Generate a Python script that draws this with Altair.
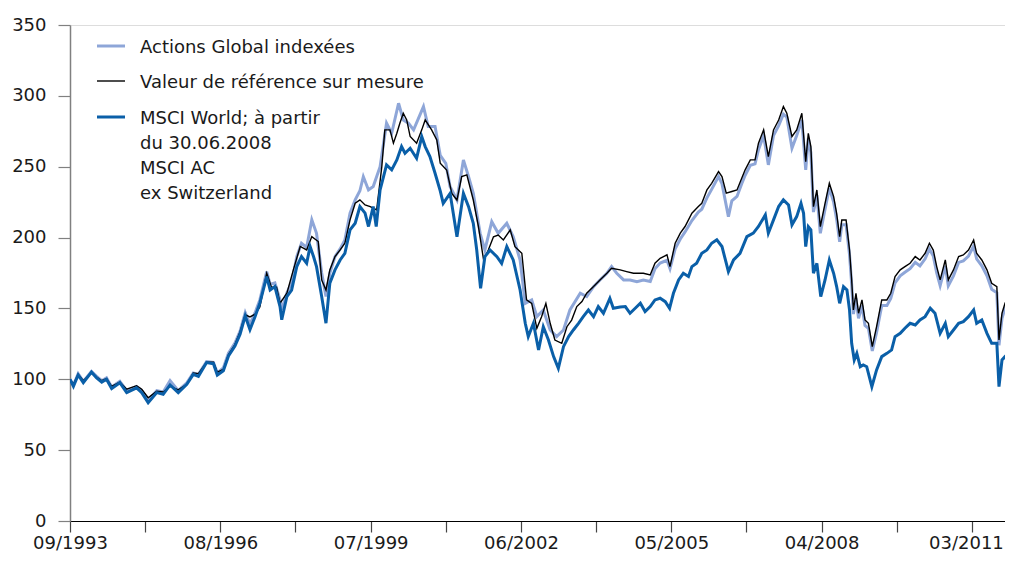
import altair as alt
import pandas as pd

# x positions are months since 09/1993
tick_months = [0, 17.5, 35, 52.5, 70, 87.5, 105, 122.5, 140, 157.5, 175, 192.5, 210]
label_months = [0, 35, 70, 105, 140, 175, 210]
tick_labels = ["09/1993", "08/1996", "07/1999", "06/2002", "05/2005", "04/2008", "03/2011"]

msci_m = [0, 0.8, 1.9, 3.1, 5.0, 6.2, 7.4, 8.5, 9.7, 11.6, 13.2, 15.5, 16.7, 18.2, 20.2, 21.7, 23.3, 25.2,
          27.2, 28.7, 29.9, 31.8, 33.4, 34.3, 35.7, 36.9, 38.4, 39.6, 40.8, 41.9, 43.1, 44.2, 45.8, 46.6,
          47.7, 48.9, 49.3, 50.5, 51.6, 52.8, 53.9, 55.1, 55.9, 56.7, 57.4, 58.6, 59.6, 60.5, 61.7, 62.9,
          64.0, 65.2, 66.4, 67.5, 68.7, 69.5, 70.6, 71.3, 72.2, 73.0, 73.7, 74.9, 76.1, 77.2, 78.0, 79.2,
          80.7, 81.9, 82.7, 83.8, 85.0, 86.2, 86.9, 88.5, 90.1, 91.6, 92.8, 93.9, 94.7, 95.6, 96.6, 97.8,
          99.4, 100.5, 101.7, 103.2, 104.8, 106.0, 106.7, 107.9, 109.1, 110.2, 111.4, 112.6, 113.7, 114.9,
          116.1, 117.2, 118.4, 119.5, 120.7, 121.9, 123.0, 124.2, 125.7, 126.5, 128.1, 129.3, 130.4, 131.6,
          132.8, 133.9, 135.1, 136.2, 137.4, 138.6, 139.6, 140.5, 141.7, 142.8, 144.0, 144.8, 145.9, 147.1,
          148.3, 149.4, 150.6, 151.8, 152.8, 153.3, 154.5, 156.0, 157.6, 159.1, 160.3, 161.9, 162.6, 163.8,
          165.0, 166.1, 167.3, 168.1, 169.2, 170.2, 170.8, 171.3, 171.9, 172.5, 173.1, 173.9, 174.8, 175.8,
          176.8, 177.8, 178.5, 179.2, 180.1, 180.9, 181.5, 182.0, 182.6, 183.2, 184.0, 184.7, 185.5, 186.7,
          187.8, 189.0, 190.2, 191.3, 192.1, 193.3, 194.4, 195.6, 196.8, 197.9, 199.1, 200.3, 201.4, 202.6,
          203.8, 204.5, 205.7, 206.9, 208.0, 209.2, 210.4, 211.1, 212.3, 213.5, 214.6, 215.8, 216.3, 217.0,
          217.7, 218.5, 219.6]
msci_v = [100, 95, 103, 97.6, 105, 101, 98, 100, 93.4, 97.6, 90.6, 94, 90.6, 83.5, 90.6, 89.4, 96, 90.6,
          96.5, 103.5, 102, 111.8, 111, 103, 106, 116.5, 123.5, 131.8, 144.7, 135, 144.3, 153.7, 172.5, 163,
          165.4, 151.3, 142, 158.4, 163, 179.5, 186.6, 181.9, 193.7, 186.6, 179.5, 158.4, 139.6, 167.8, 177.2, 184.2,
          188.9, 205.4, 210.1, 221.9, 217.2, 207.8, 221.9, 207.8, 233.6, 243, 251.3, 247.8, 254.8, 264.2, 259.5, 263,
          256, 271.3, 264.2, 257.2, 245.4, 233, 224.2, 231.2, 200.6, 231.2, 221.8, 210.1, 191.2, 164.2, 186.5, 191.2,
          186.5, 181.8, 193.6, 184.2, 163, 139.5, 130.1, 139.5, 120.7, 137.1, 127.7, 116, 107.7, 123,
          130.1, 134.8, 139.5, 144.2, 148.9, 144.2, 151.3, 146.6, 157.1, 150.1, 151, 151.3, 146.6, 150.1,
          153.7, 147.8, 151.3, 156, 157.2, 154.8, 150.1, 160.7, 170.1, 174.8, 172.5, 179.5, 181.9, 188.9,
          191.3, 196, 198.4, 193.7, 181.9, 176, 184.2, 188.9, 200.7, 203.1, 207.8, 216, 203.1, 212.5,
          221.9, 226.6, 223, 209, 214.8, 224.2, 217.1, 193.6, 207.7, 205.4, 174.8, 181.8, 158.3, 170.1,
          184.2, 174.8, 165.4, 153.6, 165.4, 163, 148.9, 125.4, 113.6, 118.3, 108.9, 110.1, 108.9, 94.8,
          106.6, 116, 118.3, 120.7, 130.1, 132.4, 136, 139.5, 138.3, 141.9, 144.2, 150.1, 146.6, 132.4,
          139.5, 130.1, 134.8, 139.5, 140.7, 144.2, 148.9, 139.5, 141.9, 132.4, 125.4, 125.4, 94.8, 113.6,
          116, 118.3, 123]

bench_m = [0, 0.8, 1.9, 3.1, 5.0, 6.2, 7.4, 8.5, 9.7, 11.6, 13.2, 15.5, 16.7, 18.2, 20.2, 21.7, 23.3, 25.2,
           27.2, 28.7, 29.9, 31.8, 33.4, 34.3, 35.7, 36.9, 38.4, 39.6, 40.8, 41.9, 43.1, 44.2, 45.8, 46.9,
           48.1, 48.9, 50.5, 52.0, 53.6, 55.1, 56.3, 57.8, 58.6, 59.6, 60.5, 61.7, 62.9, 64.0, 65.2, 66.4,
           67.5, 68.7, 69.9, 71.4, 72.6, 73.3, 74.5, 75.3, 76.1, 76.8, 77.6, 78.4, 79.2, 80.7, 81.9, 82.7,
           84.2, 85.4, 86.2, 87.7, 88.9, 90.1, 91.2, 92.4, 93.9, 95.1, 96.3, 97.4, 98.6, 99.7, 100.9, 102.5,
           103.6, 105.2, 106.3, 107.5, 108.7, 109.8, 110.8, 111.8, 112.9, 114.5, 115.7, 116.8, 118.0, 119.2,
           120.3, 121.9, 123.4, 125.0, 126.1, 128.1, 129.6, 131.2, 132.0, 133.5, 135.1, 136.2, 137.4, 139.0,
           139.7, 140.9, 142.1, 143.2, 144.8, 146.3, 147.1, 148.3, 149.4, 151.0, 151.8, 152.8, 154.1, 155.3,
           156.4, 157.2, 158.4, 159.5, 160.3, 161.5, 162.6, 163.8, 165.0, 166.1, 166.9, 168.1, 169.2, 170.4,
           171.3, 171.9, 172.5, 173.1, 173.9, 174.7, 175.8, 176.8, 177.8, 178.5, 179.2, 179.7, 180.7, 181.5,
           182.0, 182.4, 183.0, 183.6, 184.4, 185.1, 185.9, 186.8, 187.8, 189.0, 190.2, 191.1, 192.1, 193.3,
           194.4, 195.6, 196.8, 197.9, 199.1, 200.1, 201.0, 201.8, 202.6, 203.8, 204.5, 205.7, 206.9, 208.0,
           209.2, 210.4, 211.1, 212.3, 213.5, 214.6, 215.8, 216.3, 217.0, 217.7, 218.5, 219.6]
bench_v = [100, 96.5, 103.5, 99, 104.5, 101.5, 99, 100.5, 95, 98, 93, 95.5, 93, 87, 91.5, 91, 95, 92.5,
           96.5, 104.5, 104, 112, 112, 105, 107, 117.5, 124.5, 133.5, 145.5, 144, 146, 151, 174.8, 165,
           165, 153.7, 160.7, 177.2, 193.7, 191.3, 200.7, 197.2, 170.1, 163, 177.2, 186.6, 191.3, 196, 212.5, 224.2,
           226.6, 223, 221.9, 219.5, 250.1, 276, 276, 266.6, 273.6, 280.7, 287.7, 283, 271.3, 266.6, 276, 283,
           276, 268.9, 252.5, 247.7, 231.2, 226.5, 243, 244.2, 226.5, 207.7, 184.2, 191.2, 200.6, 201.8, 198.3, 205.4,
           193.6, 188.9, 156, 153.6, 136, 144.2, 153.6, 139.5, 127.7, 125.4, 137.1, 141.8, 151.3, 154.8,
           160.7, 165.4, 170.1, 174.8, 178.3, 177.2, 176, 174.8, 174.8, 174.8, 173.7, 181.9, 185.4, 187.8,
           179.5, 196, 203.1, 207.8, 217.2, 221.9, 224.2, 233.6, 238.3, 246.6, 243, 231.3, 232.5, 233.6,
           241.9, 247.8, 254.8, 254.8, 266.6, 276, 257.2, 276, 283, 292.4, 287.7, 271.3, 276, 287.7,
           253.5, 273.6, 264.2, 221.8, 233.6, 207.7, 224.2, 238.3, 228.9, 217.1, 200.6, 212.4, 212.4, 191.2,
           170.1, 148.9, 160.7, 146.6, 156, 141.9, 139.5, 123, 137.2, 156, 156, 160.7, 172.5, 177.2,
           179.5, 181.9, 186.6, 184.2, 188.9, 196, 191.2, 179.5, 170.1, 184.2, 170.1, 177.2, 186.6, 187.7,
           191.2, 198.3, 188.9, 184.2, 177.2, 167.7, 165.4, 127.7, 146.6, 153.6, 158.3, 161.9]

fund_m = [0, 0.8, 1.9, 3.1, 5.0, 6.2, 7.4, 8.5, 9.7, 11.6, 13.2, 15.5, 16.7, 18.2, 20.2, 21.7, 23.3, 25.2,
          27.2, 28.7, 29.9, 31.8, 33.4, 34.3, 35.7, 36.9, 38.4, 39.6, 40.8, 41.9, 43.1, 44.2, 45.8, 46.6,
          47.7, 48.9, 49.3, 50.5, 51.6, 52.8, 53.9, 55.1, 56.3, 57.4, 58.6, 59.6, 60.5, 61.7, 62.9, 64.0,
          65.2, 66.4, 67.5, 68.3, 69.5, 70.6, 72.2, 73.7, 74.9, 76.5, 77.6, 78.8, 80.0, 82.3, 83.4, 85.0,
          86.2, 87.5, 88.5, 90.1, 91.6, 92.8, 93.9, 95.5, 96.6, 98.2, 99.7, 101.7, 103.2, 104.8, 106.0, 107.5,
          108.7, 110.2, 111.8, 113.3, 114.9, 116.4, 118.8, 120.3, 121.9, 123.4, 125.0, 126.1, 127.3, 128.9,
          130.4, 132.0, 133.5, 135.1, 136.2, 137.4, 139.0, 139.7, 140.9, 142.1, 143.2, 144.8, 146.3, 147.1,
          148.3, 149.4, 151.0, 151.8, 153.3, 154.1, 155.3, 156.4, 157.2, 158.4, 159.5, 160.3, 161.5, 162.6,
          163.8, 165.0, 166.1, 166.9, 168.1, 169.2, 170.4, 171.3, 171.9, 172.5, 173.1, 173.9, 174.7, 175.8,
          176.8, 177.8, 178.5, 179.2, 179.7, 180.7, 181.5, 182.0, 182.4, 183.0, 183.6, 184.4, 185.1, 185.9,
          186.8, 187.8, 189.0, 190.2, 191.1, 192.1, 193.3, 194.4, 195.6, 196.8, 197.9, 199.1, 200.1, 201.0,
          201.8, 202.6, 203.8, 204.5, 205.7, 206.9, 208.0, 209.2, 210.4, 211.1, 212.3, 213.5, 214.6, 215.8,
          216.3, 217.0, 217.7, 218.5, 219.6]
fund_v = [100, 96, 104, 98.5, 105.5, 102, 99, 101, 94.5, 98.5, 92, 95, 92, 85, 92, 91, 99, 92,
          97.5, 104.5, 103.5, 112.5, 112, 104.5, 108, 118.5, 125.5, 134, 147, 139, 147, 156, 176, 167,
          168, 156, 149, 161, 168, 186.6, 196, 193, 212.5, 203, 175, 158.4, 175, 186.6, 192, 198.3,
          217.2, 226.6, 233, 243, 233.6, 236, 250, 280.7, 273.6, 294.8, 283, 280.7, 276, 292.4, 278.3, 278.3,
          258, 252.4, 235.9, 226.5, 254.7, 243, 231.2, 203, 191.2, 211.2, 203, 210.1, 200.6, 184.2, 153.6, 156,
          144.2, 148.9, 134.8, 130.1, 134.8, 148.9, 160.7, 158.3, 165.4, 170.1, 174.8, 179.5, 174.8, 170.1,
          170.1, 168.9, 170, 169, 178, 182, 184, 178, 192, 199, 204, 212, 218, 220,
          228, 234, 243, 238, 214.8, 226, 229, 238, 244, 251, 252, 262, 272, 251.3,
          272, 279, 287, 285, 263, 272, 283, 247.8, 270, 260, 218, 230, 203, 220,
          235, 225, 213, 197, 209, 209, 188, 167, 146, 157, 143, 152, 138, 136,
          120, 133, 152, 152, 157, 168, 173, 175.5, 178, 182.5, 180, 185, 192, 187,
          175, 166, 180, 166, 173, 182.5, 183.5, 187, 194, 185, 180, 173, 163.5, 161,
          124, 143, 150, 154, 157.5]

legend_names = ["Actions Global indexées", "Valeur de référence sur mesure", "MSCI World; à partir"]
legend_extra = ["du 30.06.2008", "MSCI AC", "ex Switzerland"]

FONT = "DejaVu Sans"
FS = 18
C_FUND = "#8ea6d8"
C_BENCH = "#000000"
C_MSCI = "#0a5fa8"

fund = pd.DataFrame({"m": fund_m, "v": fund_v})
bench = pd.DataFrame({"m": bench_m, "v": bench_v})
msci = pd.DataFrame({"m": msci_m, "v": msci_v})

label_expr = " : ".join(
    f"datum.value == {m} ? '{t}'" for m, t in zip(label_months, tick_labels)
) + " : ''"

x_enc = alt.X(
    "m:Q",
    scale=alt.Scale(domain=[0, 217.7], nice=False, zero=False),
    axis=alt.Axis(
        values=tick_months, labelExpr=label_expr, title=None, grid=False,
        domainColor="#000000", domainWidth=1.2, tickColor="#444444", tickSize=11,
        tickWidth=1.2, labelPadding=2, labelFontSize=FS, labelFont=FONT,
        labelColor="#1a1a1a", labelOverlap=False, labelFlush=False,
        labelOffset={"condition": {"test": f"datum.value == {label_months[-1]}", "value": -6}, "value": 0},
    ),
)
y_enc = alt.Y(
    "v:Q",
    scale=alt.Scale(domain=[0, 350], nice=False),
    axis=alt.Axis(
        values=[0, 50, 100, 150, 200, 250, 300, 350], title=None, grid=False,
        domainColor="#808080", domainWidth=1.5, tickColor="#808080", tickSize=12,
        tickWidth=1.2, labelPadding=12, labelFontSize=FS, labelFont=FONT,
        labelColor="#1a1a1a",
    ),
)

l_fund = alt.Chart(fund).mark_line(color=C_FUND, strokeWidth=3, clip=True).encode(x=x_enc, y=y_enc)
l_bench = alt.Chart(bench).mark_line(color=C_BENCH, strokeWidth=1.4, clip=True).encode(x="m:Q", y="v:Q")
l_msci = alt.Chart(msci).mark_line(color=C_MSCI, strokeWidth=3, clip=True).encode(x="m:Q", y="v:Q")

legend_df = pd.DataFrame({"k": [0]})
colors = [C_FUND, C_BENCH, C_MSCI]
widths = [3, 1.4, 3]
sym_y = [21, 56, 92]
text_y = [28, 63, 99, 124, 149, 174]
layers = [l_fund, l_bench, l_msci]
for i in range(3):
    layers.append(
        alt.Chart(legend_df).mark_rule(color=colors[i], strokeWidth=widths[i]).encode(
            x=alt.value(27), x2=alt.value(55), y=alt.value(sym_y[i])
        )
    )
all_lines = legend_names + legend_extra
for i, t in enumerate(all_lines):
    layers.append(
        alt.Chart(legend_df).mark_text(
            text=t, align="left", baseline="alphabetic", font=FONT, fontSize=FS, color="#1a1a1a"
        ).encode(x=alt.value(70), y=alt.value(text_y[i]))
    )

chart = alt.layer(*layers).properties(
    width=935, height=496,
    autosize=alt.AutoSizeParams(type="none"),
    padding={"left": 62, "top": 17, "right": 0, "bottom": 37},
).configure_view(stroke=None).configure(background="white")

chart.save("out.html", embed_options={"renderer": "svg", "actions": False})
